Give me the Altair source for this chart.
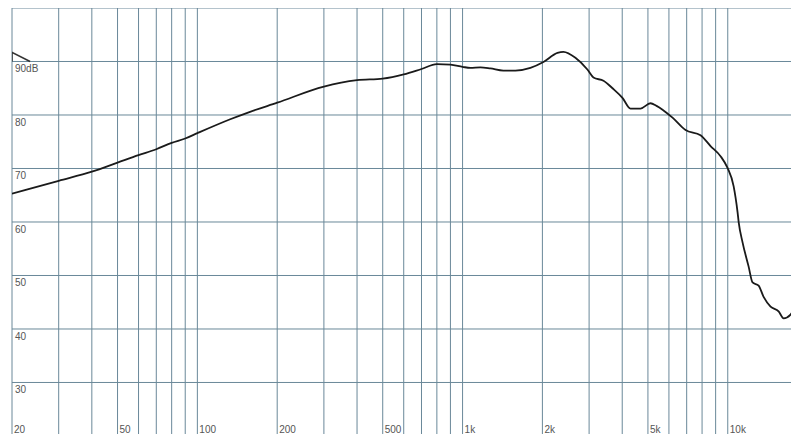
import altair as alt
import pandas as pd

# Frequency response curve (Hz, dB)
freq = [20, 30, 40, 50, 60, 70, 80, 90, 100, 133, 158, 200, 300, 400, 500, 600, 700, 800, 900, 1000,
        1070, 1167, 1273, 1425, 1582, 1802, 2018, 2279, 2400, 2664,
        2956, 3116, 3399, 3676, 4008, 4297, 4688, 5113, 5387, 5676,
        6190, 6930, 7894, 8610, 9392, 9981, 10520, 10890, 11000, 11370,
        11980, 12400, 13070, 13650, 14500, 15550, 16240, 17250, 18020, 18660]
spl = [65.3, 67.7, 69.4, 71.1, 72.5, 73.6, 74.8, 75.6, 76.6, 79.2, 80.6, 82.3, 85.3, 86.5, 86.8, 87.6, 88.6, 89.5, 89.4, 89.0,
       88.8, 88.9, 88.7, 88.3, 88.3, 88.8, 89.9, 91.6, 91.8, 90.7,
       88.5, 87.0, 86.4, 85.0, 83.2, 81.2, 81.2, 82.2, 81.7, 81.0,
       79.5, 77.2, 76.2, 74.2, 72.3, 70.1, 66.7, 61.8, 59.9, 56.2,
       51.7, 48.7, 48.1, 46.0, 44.2, 43.3, 42.0, 42.7, 44.2, 45.5]

# small stray trace at top-left
stray_freq = [20, 20, 23.4]
stray_spl = [90.0, 91.7, 90.0]

# grid
x_grid = [20, 30, 40, 50, 60, 70, 80, 90, 100, 200, 300, 400, 500, 600, 700, 800, 900,
          1000, 2000, 3000, 4000, 5000, 6000, 7000, 8000, 9000, 10000]
y_grid = [30, 40, 50, 60, 70, 80, 90, 100]

x_label_vals = [20, 50, 100, 200, 500, 1000, 2000, 5000, 10000]
x_label_txt = ["20", "50", "100", "200", "500", "1k", "2k", "5k", "10k"]
y_label_vals = [90, 80, 70, 60, 50, 40, 30]
y_label_txt = ["90dB", "80", "70", "60", "50", "40", "30"]

X_DOMAIN = [20, 17316]
Y_DOMAIN = [20.37, 100]
xs = alt.Scale(type="log", domain=X_DOMAIN, nice=False)
ys = alt.Scale(domain=Y_DOMAIN, nice=False, zero=False)

curve = pd.DataFrame({"f": freq, "db": spl})
stray = pd.DataFrame({"f": stray_freq, "db": stray_spl, "o": [0, 1, 2]})
xg = pd.DataFrame({"f": x_grid})
yg = pd.DataFrame({"db": y_grid})
xl = pd.DataFrame({"f": x_label_vals, "t": x_label_txt, "db": [Y_DOMAIN[0]] * len(x_label_vals)})
yl = pd.DataFrame({"db": y_label_vals, "t": y_label_txt, "f": [20] * len(y_label_vals)})

GRID = "#6a8899"

vrules = alt.Chart(xg).mark_rule(color=GRID, strokeWidth=1).encode(
    x=alt.X("f:Q", scale=xs, axis=None))
hrules = alt.Chart(yg).mark_rule(color=GRID, strokeWidth=1).encode(
    y=alt.Y("db:Q", scale=ys, axis=None))

line = alt.Chart(curve).mark_line(color="#1a1a1a", strokeWidth=1.8, interpolate="monotone", clip=True).encode(
    x=alt.X("f:Q", scale=xs, axis=None),
    y=alt.Y("db:Q", scale=ys, axis=None))

stray_line = alt.Chart(stray).mark_line(color="#333333", strokeWidth=1.5, clip=True).encode(
    x=alt.X("f:Q", scale=xs, axis=None),
    y=alt.Y("db:Q", scale=ys, axis=None),
    order="o:Q")

xtext = alt.Chart(xl).mark_text(align="left", baseline="alphabetic", dx=2, dy=-1,
                                font="Liberation Sans", fontSize=10, color="#555555").encode(
    x=alt.X("f:Q", scale=xs, axis=None),
    y=alt.Y("db:Q", scale=ys, axis=None),
    text="t:N")

ytext = alt.Chart(yl).mark_text(align="left", baseline="top", dx=3, dy=3,
                                font="Liberation Sans", fontSize=10, color="#555555").encode(
    x=alt.X("f:Q", scale=xs, axis=None),
    y=alt.Y("db:Q", scale=ys, axis=None),
    text="t:N")

chart = alt.layer(vrules, hrules, line, stray_line, xtext, ytext).properties(
    width=779, height=426,
    padding={"left": 4, "top": 0, "right": 0, "bottom": 0},
    autosize=alt.AutoSizeParams(type="none"),
    background="white",
).configure_view(stroke=None)

chart.save("out.html", embed_options={"renderer": "svg", "actions": False})
